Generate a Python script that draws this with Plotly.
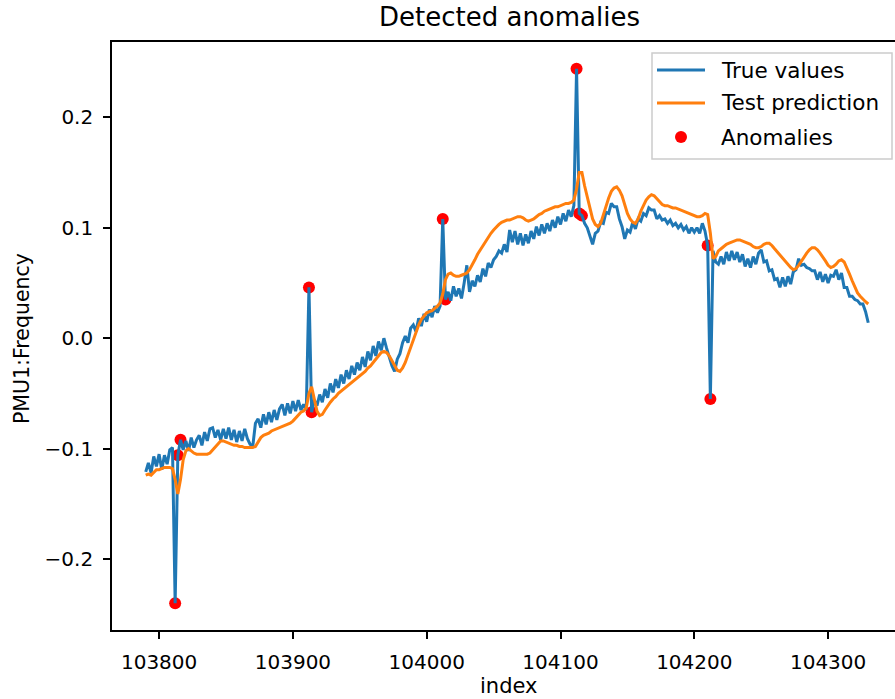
import plotly.graph_objects as go

# ---------------- data ----------------
x_start = 103790
x_step = 2

true_values = [
    -0.121, -0.113, -0.122, -0.107, -0.116, -0.105, -0.119, -0.106, -0.114, -0.101,
    -0.099, -0.240, -0.106, -0.092, -0.101, -0.093, -0.102, -0.090, -0.099, -0.092,
    -0.088, -0.097, -0.085, -0.093, -0.082, -0.081, -0.090, -0.083, -0.092, -0.082,
    -0.091, -0.081, -0.092, -0.083, -0.094, -0.084, -0.093, -0.082, -0.091, -0.096,
    -0.098, -0.077, -0.073, -0.081, -0.069, -0.078, -0.067, -0.076, -0.065, -0.074,
    -0.064, -0.060, -0.070, -0.059, -0.068, -0.057, -0.066, -0.056, -0.065, -0.060,
    -0.065, 0.046, -0.067, -0.056, -0.061, -0.051, -0.058, -0.046, -0.054, -0.041,
    -0.049, -0.037, -0.045, -0.033, -0.041, -0.029, -0.037, -0.025, -0.033, -0.022,
    -0.029, -0.017, -0.026, -0.012, -0.020, -0.007, -0.016, -0.003, -0.011, 0.000,
    -0.009, -0.018, -0.025, -0.030, -0.019, -0.014, -0.004, 0.002, -0.004, 0.009,
    0.012, 0.006, 0.018, 0.011, 0.022, 0.015, 0.026, 0.019, 0.029, 0.023,
    0.029, 0.108, 0.035, 0.042, 0.034, 0.047, 0.038, 0.045, 0.036, 0.050,
    0.066, 0.042, 0.052, 0.047, 0.057, 0.051, 0.063, 0.056, 0.068, 0.064,
    0.071, 0.074, 0.079, 0.077, 0.085, 0.078, 0.098, 0.087, 0.097, 0.085,
    0.095, 0.084, 0.094, 0.086, 0.097, 0.090, 0.101, 0.093, 0.103, 0.095,
    0.104, 0.097, 0.107, 0.100, 0.110, 0.103, 0.113, 0.106, 0.116, 0.110,
    0.120, 0.244, 0.113, 0.111, 0.104, 0.100, 0.092, 0.085, 0.095, 0.097,
    0.105, 0.104, 0.114, 0.113, 0.122, 0.119, 0.119, 0.108, 0.101, 0.090,
    0.098, 0.096, 0.105, 0.099, 0.108, 0.106, 0.113, 0.111, 0.118, 0.116,
    0.116, 0.108, 0.111, 0.107, 0.108, 0.104, 0.107, 0.102, 0.104, 0.100,
    0.103, 0.098, 0.101, 0.095, 0.100, 0.096, 0.100, 0.095, 0.104, 0.097,
    0.084, -0.055, 0.079, 0.069, 0.067, 0.074, 0.067, 0.078, 0.070, 0.079,
    0.071, 0.078, 0.069, 0.076, 0.065, 0.072, 0.064, 0.074, 0.067, 0.077,
    0.080, 0.069, 0.070, 0.061, 0.062, 0.053, 0.054, 0.046, 0.055, 0.047,
    0.056, 0.049, 0.060, 0.062, 0.072, 0.066, 0.067, 0.064, 0.063, 0.061,
    0.061, 0.053, 0.060, 0.051, 0.058, 0.050, 0.057, 0.056, 0.062, 0.053,
    0.059, 0.046, 0.046, 0.038, 0.038, 0.035, 0.034, 0.031, 0.031, 0.024,
    0.014,
]

test_prediction = [
    -0.124, -0.123, -0.124, -0.121, -0.119, -0.119, -0.118, -0.117, -0.117, -0.117,
    -0.118, -0.128, -0.141, -0.128, -0.110, -0.102, -0.100, -0.102, -0.104, -0.105,
    -0.105, -0.105, -0.105, -0.105, -0.104, -0.101, -0.098, -0.095, -0.093, -0.093,
    -0.094, -0.095, -0.096, -0.097, -0.097, -0.098, -0.098, -0.099, -0.099, -0.099,
    -0.099, -0.098, -0.094, -0.090, -0.088, -0.087, -0.086, -0.084, -0.083, -0.082,
    -0.081, -0.080, -0.079, -0.078, -0.077, -0.075, -0.072, -0.069, -0.067, -0.066,
    -0.063, -0.050, -0.044, -0.055, -0.066, -0.070, -0.069, -0.065, -0.061, -0.058,
    -0.055, -0.053, -0.050, -0.048, -0.046, -0.044, -0.042, -0.040, -0.038, -0.036,
    -0.034, -0.032, -0.030, -0.027, -0.025, -0.022, -0.019, -0.016, -0.013, -0.012,
    -0.013, -0.016, -0.020, -0.025, -0.029, -0.030, -0.027, -0.022, -0.015, -0.007,
    -0.001, 0.006, 0.012, 0.017, 0.020, 0.023, 0.024, 0.025, 0.027, 0.029,
    0.032, 0.040, 0.053, 0.058, 0.059, 0.057, 0.056, 0.056, 0.057, 0.058,
    0.059, 0.062, 0.066, 0.071, 0.076, 0.080, 0.084, 0.088, 0.092, 0.095,
    0.098, 0.101, 0.103, 0.105, 0.106, 0.107, 0.107, 0.108, 0.109, 0.110,
    0.110, 0.109, 0.107, 0.106, 0.107, 0.108, 0.110, 0.112, 0.113, 0.115,
    0.116, 0.117, 0.118, 0.119, 0.119, 0.120, 0.121, 0.122, 0.122, 0.123,
    0.125, 0.135, 0.150, 0.150, 0.138, 0.127, 0.116, 0.108, 0.103, 0.101,
    0.104, 0.112, 0.119, 0.127, 0.133, 0.136, 0.137, 0.134, 0.129, 0.121,
    0.113, 0.108, 0.105, 0.104, 0.108, 0.115, 0.120, 0.125, 0.128, 0.130,
    0.129, 0.126, 0.123, 0.121, 0.120, 0.120, 0.119, 0.118, 0.118, 0.117,
    0.116, 0.115, 0.114, 0.113, 0.112, 0.111, 0.110, 0.110, 0.111, 0.113,
    0.112, 0.095, 0.072, 0.074, 0.079, 0.081, 0.083, 0.085, 0.086, 0.087,
    0.088, 0.089, 0.089, 0.088, 0.087, 0.086, 0.085, 0.083, 0.082, 0.082,
    0.083, 0.085, 0.086, 0.086, 0.084, 0.081, 0.078, 0.075, 0.072, 0.069,
    0.066, 0.064, 0.062, 0.063, 0.066, 0.070, 0.074, 0.077, 0.080, 0.082,
    0.082, 0.080, 0.077, 0.074, 0.070, 0.066, 0.064, 0.065, 0.067, 0.070,
    0.071, 0.069, 0.064, 0.058, 0.052, 0.046, 0.041, 0.038, 0.035, 0.033,
    0.031,
]

anomaly_index = [103812, 103814, 103816, 103912, 103914, 104012, 104014,
                 104112, 104114, 104116, 104210, 104212]

x_tick_values = [103800, 103900, 104000, 104100, 104200, 104300]
x_tick_labels = ["103800", "103900", "104000", "104100", "104200", "104300"]
y_tick_values = [-0.2, -0.1, 0.0, 0.1, 0.2]
y_tick_labels = ["\u22120.2", "\u22120.1", "0.0", "0.1", "0.2"]

title_text = "Detected anomalies"
x_label = "index"
y_label = "PMU1:Frequency"
legend_labels = ["True values", "Test prediction", "Anomalies"]

# ---------------- derived ----------------
index = [x_start + i * x_step for i in range(len(true_values))]
lookup = dict(zip(index, true_values))
anomaly_values = [lookup[i] for i in anomaly_index]

BLUE = "#1f77b4"
ORANGE = "#ff7f0e"
RED = "red"
FONT = "DejaVu Sans"

W, H = 895, 699
ML, MR, MT, MB = 112, 0, 42, 69
PW = W - ML - MR
PH = H - MT - MB


def px(xp):
    return (xp - ML) / PW


def py(yp):
    return (H - MB - yp) / PH


fig = go.Figure()
# matplotlib draws scatter collections beneath lines
fig.add_trace(go.Scatter(x=anomaly_index, y=anomaly_values, mode="markers",
                         marker=dict(color=RED, size=12, line=dict(width=0)),
                         name=legend_labels[2]))
fig.add_trace(go.Scatter(x=index, y=true_values, mode="lines",
                         line=dict(color=BLUE, width=3), name=legend_labels[0]))
fig.add_trace(go.Scatter(x=index, y=test_prediction, mode="lines",
                         line=dict(color=ORANGE, width=3), name=legend_labels[1]))

axis_common = dict(
    showgrid=False, zeroline=False, showline=True, linecolor="black",
    linewidth=1.6, ticks="outside", ticklen=7, tickwidth=1.6, tickcolor="black",
    tickfont=dict(family=FONT, size=20, color="black"),
    ticklabelstandoff=6,
)

fig.update_xaxes(range=[103764.8, 104350.0], tickmode="array",
                 tickvals=x_tick_values, ticktext=x_tick_labels,
                 mirror=True, **axis_common)
fig.update_yaxes(range=[-0.2642, 0.2682], tickmode="array",
                 tickvals=y_tick_values, ticktext=y_tick_labels,
                 mirror=False, **axis_common)

annotations = [
    dict(text=title_text, x=px(509), y=py(17), xref="paper", yref="paper",
         xanchor="center", yanchor="middle", showarrow=False,
         font=dict(family=FONT, size=26, color="black")),
    dict(text=x_label, x=px(508), y=py(686), xref="paper", yref="paper",
         xanchor="center", yanchor="middle", showarrow=False,
         font=dict(family=FONT, size=21, color="black")),
    dict(text=y_label, x=px(22), y=py(339), xref="paper", yref="paper",
         xanchor="center", yanchor="middle", showarrow=False, textangle=-90,
         font=dict(family=FONT, size=20.5, color="black")),
]

# manual legend (matplotlib style)
lx0, lx1, ly0, ly1 = px(652), px(892), py(159), py(53)
shapes = [
    dict(type="rect", xref="paper", yref="paper", x0=lx0, x1=lx1, y0=ly0, y1=ly1,
         line=dict(color="rgb(204,204,204)", width=1.5),
         fillcolor="rgba(255,255,255,0.8)", layer="above"),
]
entry_y = [70, 103, 137]
for label, yy, kind, col in zip(legend_labels, entry_y,
                                 ["line", "line", "marker"], [BLUE, ORANGE, RED]):
    if kind == "line":
        shapes.append(dict(type="line", xref="paper", yref="paper",
                           x0=px(657), x1=px(705), y0=py(yy), y1=py(yy),
                           line=dict(color=col, width=3), layer="above"))
    else:
        shapes.append(dict(type="circle", xref="paper", yref="paper",
                           xsizemode="pixel", ysizemode="pixel",
                           xanchor=px(681), yanchor=py(yy),
                           x0=-6, x1=6, y0=-6, y1=6,
                           fillcolor=col, line=dict(width=0), layer="above"))
    annotations.append(dict(text=label, x=px(719), y=py(yy), xref="paper",
                            yref="paper", xanchor="left", yanchor="middle",
                            showarrow=False,
                            font=dict(family=FONT, size=21.5, color="black")))

fig.update_layout(
    width=W, height=H,
    margin=dict(l=ML, r=MR, t=MT, b=MB),
    plot_bgcolor="white", paper_bgcolor="white",
    showlegend=False,
    annotations=annotations,
    shapes=shapes,
    font=dict(family=FONT, color="black"),
)

fig.write_html(
    "out.html",
    config={"displayModeBar": False},
    post_script="document.body.style.margin='0px';"
                "document.body.style.overflow='hidden';",
)
